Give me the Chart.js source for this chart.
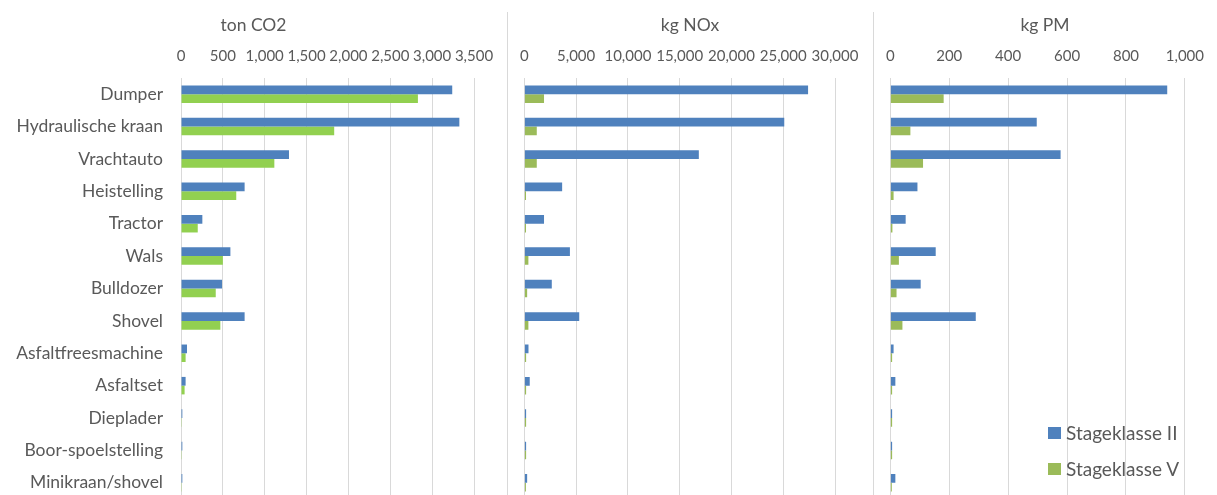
<!DOCTYPE html>
<html>
<head>
<meta charset="utf-8">
<title>Emissies per werktuig</title>
<script src="https://cdn.jsdelivr.net/npm/chart.js@4.4.1/dist/chart.umd.min.js"></script>
<style>
    body {
        margin: 0;
        background: #fff;
        overflow: hidden;
        font-family: Lato, "Open Sans", sans-serif;
    }

    #wrap {
        position: relative;
        width: 1217px;
        height: 495px;
        overflow: hidden;
    }

    .panel {
        position: absolute;
        top: 0;
        height: 500px;
    }

    .panel canvas {
        display: block;
    }

    .divider {
        position: absolute;
        top: 12px;
        height: 490px;
        width: 1px;
        background: #d9d9d9;
    }

    .legend {
        position: absolute;
        left: 1048px;
        top: 415px;
        color: #595959;
        font-size: 19px;
    }

    .legend-item {
        display: flex;
        align-items: center;
        height: 36px;
        line-height: 36px;
    }

    .legend-box {
        width: 13px;
        height: 12px;
        margin-right: 5px;
    }
</style>
</head>
<body>

<div id="wrap">
    <div class="panel" style="left:0"><canvas id="cCo2" width="507" height="500"></canvas></div>
    <div class="panel" style="left:507px"><canvas id="cNox" width="366" height="500"></canvas></div>
    <div class="panel" style="left:873px"><canvas id="cPm" width="344" height="500"></canvas></div>

    <div class="divider" style="left:507px"></div>
    <div class="divider" style="left:873px"></div>

    <div class="legend" id="legend"></div>
</div>

<script>
/* data */

const categories = [
    "Dumper",
    "Hydraulische kraan",
    "Vrachtauto",
    "Heistelling",
    "Tractor",
    "Wals",
    "Bulldozer",
    "Shovel",
    "Asfaltfreesmachine",
    "Asfaltset",
    "Dieplader",
    "Boor-spoelstelling",
    "Minikraan/shovel"
];

const seriesNames = ["Stageklasse II", "Stageklasse V"];

// ton CO2
const co2StageII = [3240, 3325, 1290, 760, 255, 590, 490, 760, 72, 55, 16, 16, 16];
const co2StageV = [2830, 1830, 1115, 660, 200, 500, 415, 470, 55, 43, 3, 3, 3];

// kg NOx
const noxStageII = [27400, 25100, 16850, 3650, 1900, 4400, 2650, 5300, 400, 520, 170, 170, 270];
const noxStageV = [1900, 1200, 1200, 160, 160, 390, 270, 390, 170, 170, 170, 170, 150];

// kg PM
const pmStageII = [940, 497, 578, 92, 52, 154, 103, 290, 11, 17, 6, 6, 17];
const pmStageV = [181, 68, 111, 11, 7, 29, 21, 41, 6, 6, 6, 6, 5];

/* colors */

const BLUE = "#4F81BD";
const GREEN = "#9BBB59";
const GREEN_LIGHT = "#92D050";
const TEXT = "#595959";
const GRID = "#d9d9d9";
const FONT = "Lato, 'Open Sans', sans-serif";

/* helpers */

// center the title over the whole canvas, not just the padded area
const fullWidthTitle = {
    id: "fullWidthTitle",

    afterLayout(chart) {
        const t = chart.titleBlock;

        if (t) {
            t.left = 0;
            t.right = chart.width;
            t.width = chart.width;
        }
    }
};

/* chart */

function buildPanel(canvasId, title, stageII, stageV, green, max, step, opts) {

    return new Chart(
        document.getElementById(canvasId),
        {
            type: "bar",

            data: {
                labels: categories,

                datasets: [
                    {
                        label: seriesNames[0],
                        data: stageII,
                        backgroundColor: BLUE,
                        barPercentage: 1,
                        categoryPercentage: 0.54
                    },
                    {
                        label: seriesNames[1],
                        data: stageV,
                        backgroundColor: green,
                        barPercentage: 1,
                        categoryPercentage: 0.54
                    }
                ]
            },

            plugins: [fullWidthTitle],

            options: {
                indexAxis: "y",
                responsive: false,
                animation: false,
                locale: "en-US",

                layout: {
                    padding: {
                        left: opts.padLeft,
                        right: opts.padRight,
                        top: 0,
                        bottom: 1
                    }
                },

                plugins: {
                    legend: {
                        display: false
                    },

                    tooltip: {
                        enabled: false
                    },

                    title: {
                        display: true,
                        text: title,
                        color: TEXT,
                        font: {
                            family: FONT,
                            size: 17.5,
                            weight: "normal",
                            lineHeight: 1.2
                        },
                        padding: {
                            top: 14.5,
                            bottom: 11.5
                        }
                    }
                },

                scales: {
                    x: {
                        position: "top",
                        min: 0,
                        max: max,

                        border: {
                            display: false
                        },

                        grid: {
                            color: GRID,
                            drawTicks: false
                        },

                        ticks: {
                            stepSize: step,
                            color: TEXT,
                            padding: 13,
                            maxRotation: 0,
                            font: {
                                family: FONT,
                                size: 15,
                                lineHeight: 1.2
                            }
                        },

                        // labels (18) + padding (13)
                        afterFit: s => {
                            s.height = 31;
                        }
                    },

                    y: {
                        display: opts.showLabels,

                        border: {
                            display: false
                        },

                        grid: {
                            display: false,
                            drawTicks: false
                        },

                        ticks: {
                            color: TEXT,
                            padding: 18,
                            autoSkip: false,
                            font: {
                                family: FONT,
                                size: 17.5
                            }
                        },

                        afterFit: s => {
                            s.paddingTop = 0;
                            s.paddingBottom = 0;

                            if (opts.showLabels) {
                                s.width = 181;
                            }
                        }
                    }
                }
            }
        }
    );
}

/* legend */

function buildLegend() {

    const colors = [BLUE, GREEN];

    document.getElementById("legend").innerHTML =
        seriesNames.map((name, i) => `
            <div class="legend-item">
                <span class="legend-box" style="background:${colors[i]}"></span>
                ${name}
            </div>
        `).join("");
}

buildPanel("cCo2", "ton CO2", co2StageII, co2StageV, GREEN_LIGHT, 3500, 500,
    { showLabels: true, padLeft: 0, padRight: 33 });

buildPanel("cNox", "kg NOx", noxStageII, noxStageV, GREEN, 30000, 5000,
    { showLabels: false, padLeft: 17, padRight: 38 });

buildPanel("cPm", "kg PM", pmStageII, pmStageV, GREEN, 1000, 200,
    { showLabels: false, padLeft: 17, padRight: 20 });

buildLegend();
</script>

</body>
</html>
